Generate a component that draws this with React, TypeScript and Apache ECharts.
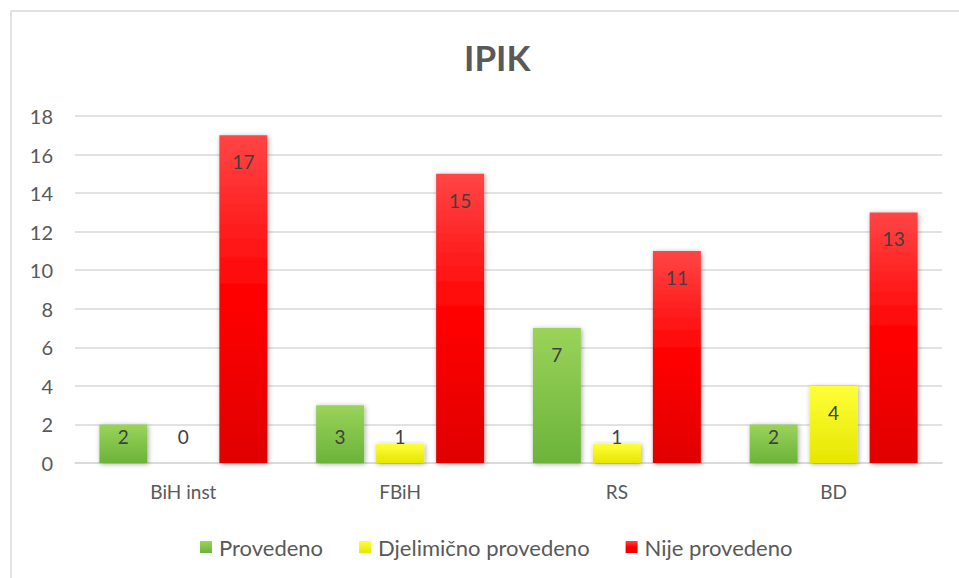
import React, { useEffect, useRef } from "react";
import * as echarts from "echarts";

const categories = ["BiH inst", "FBiH", "RS", "BD"];
const provedeno = [2, 3, 7, 2];
const djelimicno = [0, 1, 1, 4];
const nijeProvedeno = [17, 15, 11, 13];
const yTicks = { min: 0, max: 18, interval: 2 };

const FONT = "Lato, 'Open Sans', sans-serif";
const GRAY = "#595959";

function grad(stops: [number, string][]) {
  return new echarts.graphic.LinearGradient(
    0, 0, 0, 1,
    stops.map(([offset, color]) => ({ offset, color }))
  );
}

function makeData(values: number[]) {
  return values.map((v) => ({
    value: v,
    label:
      v <= 3
        ? { position: "insideBottom", distance: 17 }
        : { position: "insideTop", distance: 17 },
  }));
}

export default function App() {
  const ref = useRef<HTMLDivElement>(null);
  useEffect(() => {
    document.body.style.margin = "0";
    const chart = echarts.init(ref.current!, undefined, { renderer: "svg" });
    const shadow = {
      shadowBlur: 5,
      shadowColor: "rgba(0,0,0,0.35)",
      shadowOffsetX: 1,
      shadowOffsetY: 1,
    };
    const label = {
      show: true,
      color: "#404040",
      fontSize: 19,
      fontFamily: FONT,
    };
    chart.setOption({
      animation: false,
      backgroundColor: "#ffffff",
      title: {
        text: "IPIK",
        left: 459,
        top: 34,
        textStyle: { fontSize: 35, fontWeight: "bold", color: GRAY, fontFamily: FONT },
      },
      graphic: [
        { type: "line", shape: { x1: 11, y1: 11, x2: 959, y2: 11 }, style: { stroke: "#d9d9d9", lineWidth: 1.5 } },
        { type: "line", shape: { x1: 11, y1: 11, x2: 11, y2: 578 }, style: { stroke: "#d9d9d9", lineWidth: 1.5 } },
      ],
      legend: {
        left: 195,
        top: 531,
        itemWidth: 12,
        itemHeight: 12,
        itemGap: 36,
        textStyle: { fontSize: 22, color: GRAY, fontFamily: FONT, padding: [0, 0, 0, 2] },
        data: ["Provedeno", "Djelimično provedeno", "Nije provedeno"],
        icon: "rect",
      },
      grid: { left: 75, right: 17, top: 116, bottom: 115, containLabel: false },
      xAxis: {
        type: "category",
        data: categories,
        axisTick: { show: false },
        axisLine: { lineStyle: { color: "#d9d9d9", width: 1.5 } },
        axisLabel: { color: GRAY, fontSize: 19, fontFamily: FONT, margin: 19 },
      },
      yAxis: {
        type: "value",
        min: yTicks.min,
        max: yTicks.max,
        interval: yTicks.interval,
        axisLine: { show: false },
        axisTick: { show: false },
        splitLine: { lineStyle: { color: "#d9d9d9", width: 1.5 } },
        axisLabel: { color: GRAY, fontSize: 20, fontFamily: FONT, margin: 22 },
      },
      series: [
        {
          name: "Provedeno",
          type: "bar",
          barWidth: 48,
          barGap: "25%",
          data: makeData(provedeno),
          label,
          itemStyle: { color: grad([[0, "#9AD35A"], [1, "#6CB33A"]]), ...shadow },
        },
        {
          name: "Djelimično provedeno",
          type: "bar",
          barWidth: 48,
          barGap: "25%",
          data: makeData(djelimicno),
          label,
          itemStyle: { color: grad([[0, "#FFFF3A"], [1, "#E6E600"]]), ...shadow },
        },
        {
          name: "Nije provedeno",
          type: "bar",
          barWidth: 48,
          barGap: "25%",
          data: makeData(nijeProvedeno),
          label,
          itemStyle: { color: grad([[0, "#FF4545"], [0.5, "#FF0000"], [1, "#E00000"]]), ...shadow },
        },
      ],
    });
    return () => chart.dispose();
  }, []);
  return (
    <div
      ref={ref}
      style={{ position: "absolute", left: 0, top: 0, width: 959, height: 578 }}
    />
  );
}
